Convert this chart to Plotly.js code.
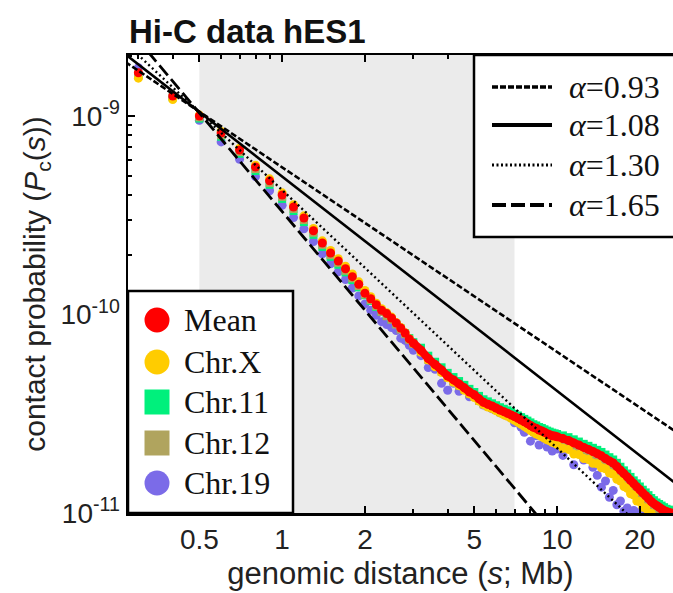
<!DOCTYPE html>
<html><head><meta charset="utf-8">
<script src="https://cdn.plot.ly/plotly-3.0.1.min.js"></script>
<style>html,body{margin:0;padding:0;background:#fff}#chart{width:673px;height:593px}</style>
</head><body><div id="chart"></div>
<script>
// ---------- DATA ----------
const distanceMb = [0.3,0.4,0.5,0.6,0.7,0.8,0.9,1.0,1.1,1.2,1.3,1.4,1.5,1.6,1.7,1.8,1.9,2.0,2.1,2.2,2.3,2.4,2.5,2.6,2.7,2.8,2.9,3.0,
3.2,3.4,3.6,3.8,4.0,4.2,4.4,4.6,4.8,5.0,5.2,5.4,5.6,5.8,6.0,6.2,6.4,6.6,6.8,7.0,7.2,7.4,7.6,7.8,8.0,8.2,8.4,8.6,8.8,9.0,9.2,9.4,9.6,9.8,10.0,
10.5,11,11.5,12,12.5,13,13.5,14,14.5,15,15.5,16,16.5,17,17.5,18,18.5,19,19.5,20,20.5,21,21.5,22,22.5,23,23.5,24,24.5,25,25.5,26,26.5,27];
const UNIT = 1e-11; // contact probabilities below are in units of 1e-11
const meanP = [165,126,100,82,67.4,55.3,47.1,40.0,34.8,30.6,26.4,22.9,20.4,18.6,17.0,15.5,14.2,12.8,12.0,11.2,10.5,10.1,9.6,9.06,8.55,8.07,7.53,7.18,
6.6,6.0,5.6,5.25,4.9,4.68,4.47,4.27,4.07,3.94,3.76,3.61,3.53,3.46,3.38,3.30,3.24,3.18,3.12,3.06,3.00,2.94,2.88,2.82,2.76,2.70,2.67,2.62,2.59,2.55,2.51,2.48,2.45,2.44,2.42,
2.37,2.32,2.255,2.20,2.14,2.09,2.04,1.99,1.94,1.88,1.83,1.786,1.714,1.644,1.58,1.52,1.46,1.406,1.355,1.309,1.262,1.222,1.183,1.143,1.114,1.091,1.069,1.047,1.028,1.018,1.007,1.0,0.98,0.96];
const chrXP = [155,121,101,83.5,68.8,56.5,48.2,41.0,35.7,31.4,27.1,23.5,21.0,19.1,17.5,16.0,14.6,13.2,12.3,11.4,10.7,10.2,9.7,9.1,8.6,8.1,7.55,7.15,
6.45,5.9,5.45,5.1,4.8,4.55,4.38,4.15,3.98,3.82,3.66,3.52,3.42,3.36,3.27,3.2,3.12,3.07,3.0,2.93,2.86,2.8,2.73,2.67,2.6,2.55,2.5,2.46,2.42,2.38,2.34,2.31,2.27,2.25,2.22,
2.12,2.09,1.98,1.97,1.88,1.86,1.78,1.77,1.69,1.67,1.59,1.57,1.48,1.45,1.36,1.33,1.25,1.23,1.15,1.14,1.07,1.06,1.0,0.995,0.95,0.94,0.9,0.895,0.86,0.865,0.84,0.845,0.82,0.825];
const chr11P = [160,124,97,78.5,64.5,52.8,45.0,38.2,33.2,29.2,25.2,21.9,19.5,17.8,16.3,14.9,13.7,12.5,11.7,10.9,10.3,9.9,9.45,8.95,8.5,8.05,7.6,7.25,
6.8,6.2,5.78,5.42,5.08,4.84,4.62,4.42,4.22,4.07,3.89,3.74,3.65,3.57,3.49,3.41,3.35,3.29,3.23,3.16,3.1,3.04,2.98,2.92,2.86,2.8,2.76,2.71,2.68,2.64,2.6,2.57,2.54,2.52,2.5,
2.46,2.41,2.35,2.29,2.23,2.18,2.13,2.08,2.03,1.97,1.91,1.86,1.79,1.71,1.64,1.58,1.52,1.46,1.41,1.36,1.31,1.27,1.23,1.19,1.16,1.13,1.11,1.09,1.07,1.05,1.04,1.03,1.01,0.99];
const chr12P = [162,125,98.5,80,65.8,54,46,39.1,34,29.9,25.8,22.4,19.9,18.2,16.6,15.2,13.9,12.6,11.8,11.0,10.3,9.8,9.4,8.9,8.4,7.95,7.45,7.1,
6.5,5.9,5.5,5.15,4.8,4.58,4.36,4.17,3.98,3.85,3.67,3.53,3.45,3.38,3.3,3.22,3.16,3.1,3.04,2.98,2.92,2.86,2.8,2.74,2.68,2.62,2.59,2.54,2.51,2.47,2.43,2.4,2.37,2.36,2.34,
2.29,2.24,2.18,2.13,2.07,2.02,1.97,1.92,1.87,1.81,1.76,1.72,1.65,1.58,1.52,1.46,1.4,1.35,1.3,1.26,1.21,1.17,1.14,1.1,1.07,1.05,1.03,1.01,0.99,0.98,0.97,0.96,0.94,0.92];
const chr19P = [175,124,95,74,60.5,49.5,42,35.5,30.8,27.0,23.3,20.2,18.0,16.4,15.0,13.6,12.4,11.3,10.5,9.9,9.2,8.9,8.6,8.3,7.6,7.4,7.0,6.6,
6.2,5.4,5.3,4.5,4.15,4.5,4.1,4.2,3.85,3.85,3.7,3.5,3.5,3.35,3.4,3.2,3.2,3.15,3.05,2.85,2.95,2.7,2.55,2.75,2.3,2.55,2.45,2.2,2.5,2.35,2.15,2.3,2.05,2.25,2.1,
1.95,2.15,1.75,2.0,1.85,1.9,1.7,1.55,1.35,1.45,1.2,1.3,1.1,1.15,1.02,1.06,0.99,1.03,0.98,1.01,0.97,1.0,0.96,0.99,0.95,0.98,0.96,0.97,0.95,0.96,0.94,0.96,0.93,0.95];

const seriesNames = ['Mean','Chr.X','Chr.11','Chr.12','Chr.19'];
const seriesValues = [meanP, chrXP, chr11P, chr12P, chr19P];
const seriesColors = ['#ff0000','#ffcc00','#00f07c','#b0a45e','#7b6be8'];
const seriesSymbols = ['circle','circle','square','square','circle'];
const meanLineFromMb = 3.0; // beyond this the mean points merge into a continuous band

// power-law guide lines P = P0 * (s/s0)^(-alpha)
const alphas = [0.93, 1.08, 1.30, 1.65];
const alphaLabels = ['0.93','1.08','1.30','1.65'];
const pivotS = 0.49, pivotP = 1.07e-9;
const guideS = [0.2, 40];
const shadedRange = [0.5, 7];

const xTickVals = [0.5,1,2,5,10,20];
const xTickText = ['0.5','1','2','5','10','20'];
const yTickVals = [1e-11,1e-10,1e-9];
const yTickText = ['10<sup>-11</sup>','10<sup>-10</sup>','10<sup>-9</sup>'];

// ---------- STYLE / LAYOUT ----------
const W = 673, H = 593, L = 128, T = 55, B = 80;
const plotW = W - L, plotH = H - T - B;
const px = x => (x - L) / plotW;
const py = y => (H - B - y) / plotH;

const lineStyles = [
  {dash:'6px,2.5px', width:2.6},
  {dash:'solid', width:2.6},
  {dash:'2px,3px', width:2.4},
  {dash:'13px,5px', width:2.8}
];
const legendLineStyles = [
  {dash:'6px,2px', width:3.5},
  {dash:'solid', width:4},
  {dash:'2px,2.5px', width:2.8},
  {dash:'14px,5px', width:4}
];

const traces = [];
// draw order: Chr.19, Chr.11, Chr.12, Chr.X, Mean
[4,2,3,1,0].forEach(i => {
  traces.push({
    x: distanceMb, y: seriesValues[i].map(v => v * UNIT),
    type:'scatter', mode:'markers', name: seriesNames[i], showlegend:false,
    marker:{color: seriesColors[i], size: seriesSymbols[i]==='square' ? 8 : 9, symbol: seriesSymbols[i], line:{width:0}}
  });
});
// continuous part of the mean curve
const meanIdx = distanceMb.map((s, j) => j).filter(j => distanceMb[j] >= meanLineFromMb);
traces.push({
  x: meanIdx.map(j => distanceMb[j]), y: meanIdx.map(j => meanP[j] * UNIT),
  type:'scatter', mode:'lines', name:'Mean', showlegend:false,
  line:{color:'#ff0000', width:8, shape:'spline', smoothing:0.6}
});
alphas.forEach((a, k) => {
  traces.push({
    x: guideS, y: guideS.map(s => pivotP * Math.pow(s / pivotS, -a)),
    type:'scatter', mode:'lines', name:'α=' + alphaLabels[k], showlegend:false,
    line:{color:'#000', dash: lineStyles[k].dash, width: lineStyles[k].width}
  });
});

const shapes = [
  {type:'rect', xref:'x', yref:'paper', x0: shadedRange[0], x1: shadedRange[1], y0:0, y1:1,
   fillcolor:'#ebebeb', line:{width:0}, layer:'below'},
  // legend boxes
  {type:'rect', xref:'paper', yref:'paper', x0: px(474), x1: px(690), y0: py(237), y1: 1,
   fillcolor:'#fff', line:{color:'#000', width:2.5}, layer:'above'},
  {type:'rect', xref:'paper', yref:'paper', x0: 0, x1: px(293), y0: 0, y1: py(291),
   fillcolor:'#fff', line:{color:'#000', width:2.5}, layer:'above'}
];
const annotations = [];
const legRowsA = [87, 125, 165, 205];
alphas.forEach((a, k) => {
  shapes.push({type:'line', xref:'paper', yref:'paper', x0: px(492), x1: px(552), y0: py(legRowsA[k]), y1: py(legRowsA[k]),
    line:{color:'#000', dash: legendLineStyles[k].dash, width: legendLineStyles[k].width}, layer:'above'});
  annotations.push({xref:'paper', yref:'paper', x: px(567), y: py(legRowsA[k]), xanchor:'left', yanchor:'middle',
    text:'<i>α</i>=' + alphaLabels[k], showarrow:false,
    font:{family:'Liberation Serif, serif', size:32, color:'#111'}});
});
const legRowsS = [320, 362, 402, 443, 483];
const mr = 12.5;
seriesNames.forEach((n, i) => {
  const cy = legRowsS[i], cx = 157;
  shapes.push({type: seriesSymbols[i]==='square' ? 'rect' : 'circle', xref:'paper', yref:'paper',
    x0: px(cx - mr), x1: px(cx + mr), y0: py(cy + mr), y1: py(cy - mr),
    fillcolor: seriesColors[i], line:{width:0}, layer:'above'});
  annotations.push({xref:'paper', yref:'paper', x: px(182), y: py(cy), xanchor:'left', yanchor:'middle',
    text: n, showarrow:false, font:{family:'Liberation Serif, serif', size:32, color:'#111'}});
});

const axisFont = {family:'Liberation Sans, Arial, sans-serif', size:28, color:'#222'};
const layout = {
  width: W, height: H,
  margin:{l:L, r:0, t:T, b:B, pad:0},
  paper_bgcolor:'#fff', plot_bgcolor:'#fff',
  showlegend:false,
  title:{text:'<b>Hi-C data hES1</b>', x:(L+1)/W, xanchor:'left', xref:'container',
         y: 1 - 31/H, yanchor:'middle', yref:'container',
         font:{family:'Liberation Sans, Arial, sans-serif', size:33, color:'#111'}},
  xaxis:{type:'log', range:[Math.log10(0.275), Math.log10(26.4)],
    tickvals:xTickVals, ticktext:xTickText, ticks:'inside', ticklen:7, tickwidth:2, tickcolor:'#000',
    minor:{tickvals:[0.3,0.4,0.6,0.7,0.8,0.9,3,4,6,7,8,9], ticks:'inside', ticklen:4, tickcolor:'#000', showgrid:false},
    showline:true, linecolor:'#000', linewidth:2.5, mirror:'ticks', showgrid:false, zeroline:false,
    tickfont: axisFont, automargin:false,
    title:{text:'genomic distance (<i>s</i>; Mb)', font:{family:'Liberation Sans, Arial, sans-serif', size:31, color:'#222'}, standoff:8}},
  yaxis:{type:'log', range:[-11, -8.693],
    tickvals:yTickVals, ticktext:yTickText, ticks:'inside', ticklen:7, tickwidth:2, tickcolor:'#000',
    minor:{tickvals:[2e-11,3e-11,4e-11,5e-11,6e-11,7e-11,8e-11,9e-11,2e-10,3e-10,4e-10,5e-10,6e-10,7e-10,8e-10,9e-10,2e-9], ticks:'inside', ticklen:4, tickcolor:'#000', showgrid:false},
    showline:true, linecolor:'#000', linewidth:2.5, mirror:false, showgrid:false, zeroline:false,
    tickfont: axisFont, automargin:false,
    title:{text:'contact probability (<i>P</i><sub>c</sub>(<i>s</i>))', font:{family:'Liberation Sans, Arial, sans-serif', size:30, color:'#222'}, standoff:6}},
  shapes: shapes,
  annotations: annotations
};
Plotly.newPlot('chart', traces, layout, {staticPlot:true, displayModeBar:false});
</script>
</body></html>
